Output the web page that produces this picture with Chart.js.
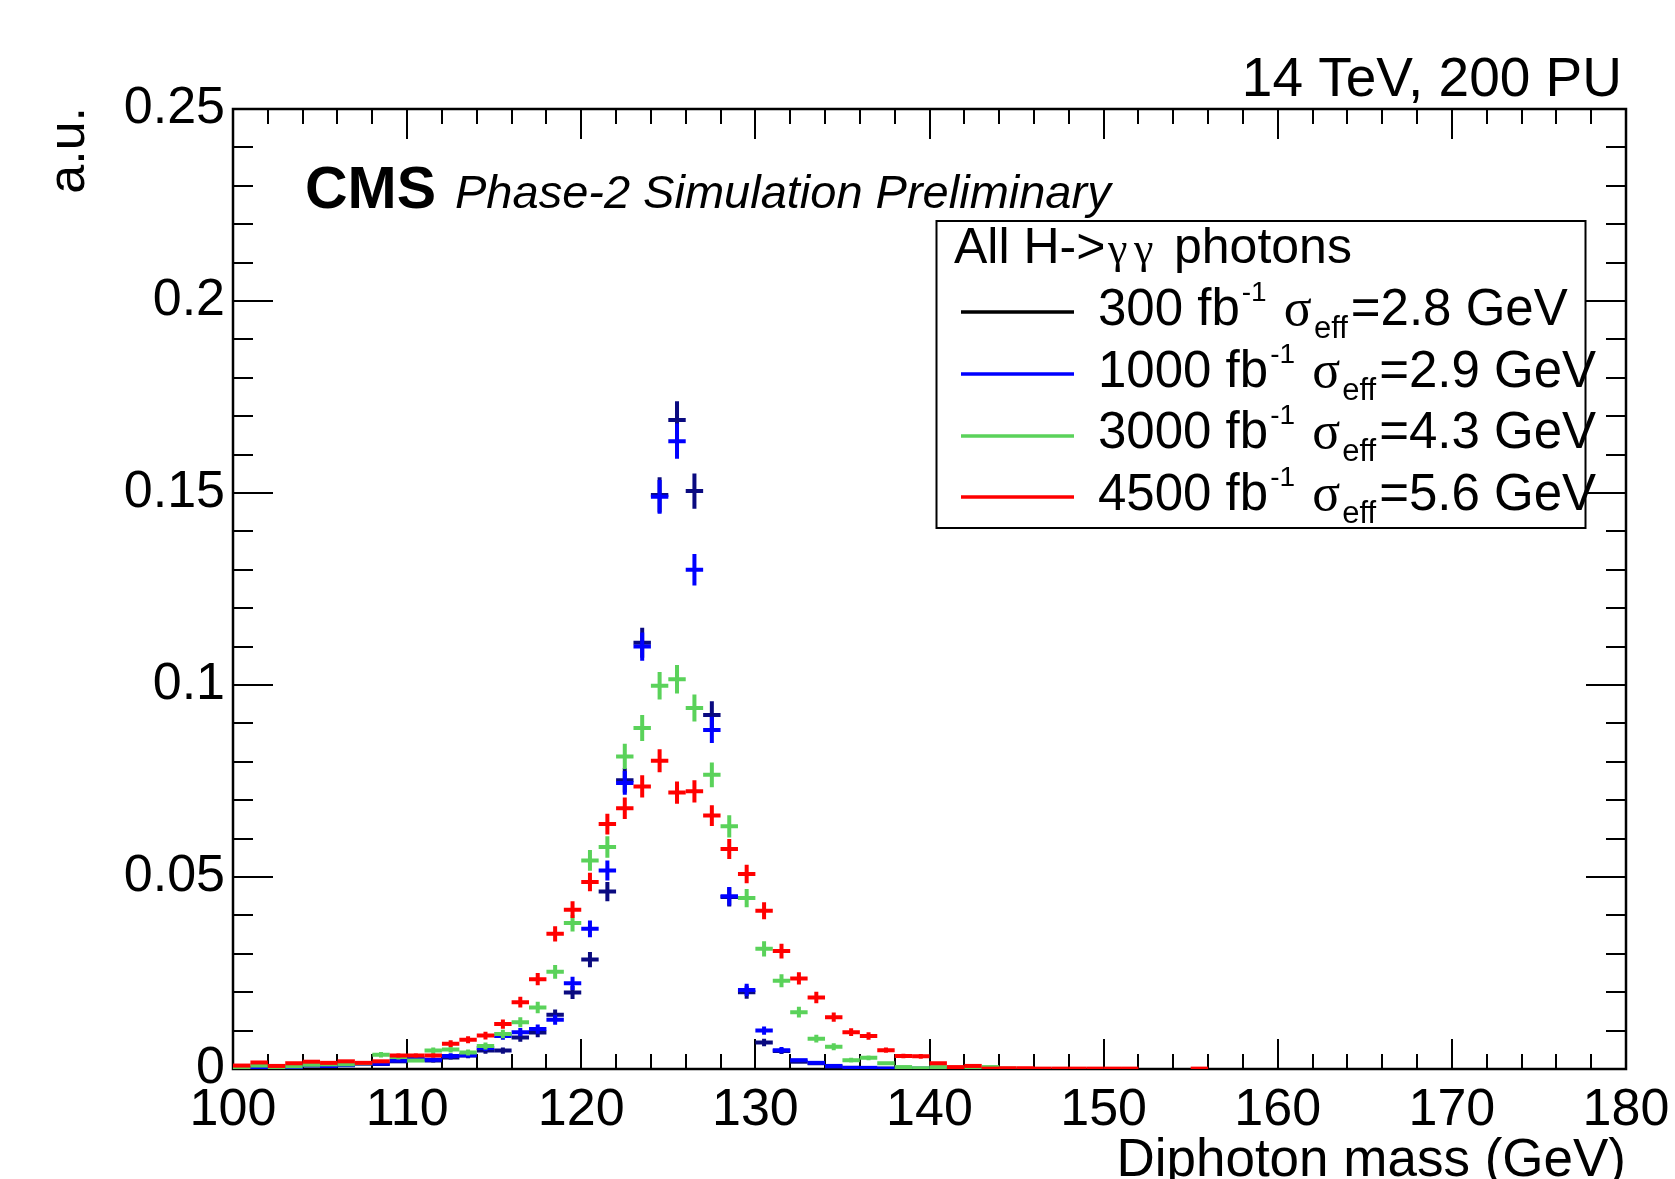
<!DOCTYPE html>
<html><head><meta charset="utf-8">
<script src="https://cdn.jsdelivr.net/npm/chart.js@4.4.1/dist/chart.umd.min.js"></script>
<style>html,body{margin:0;padding:0;background:#fff;}#wrap{width:1675px;height:1179px;position:relative;}canvas{display:block;}</style>
</head><body><div id="wrap"><canvas id="c" width="1675" height="1179"></canvas></div>
<script>
// ---------------- DATA ----------------
const binCenters = [100.5,101.5,102.5,103.5,104.5,105.5,106.5,107.5,108.5,109.5,
  110.5,111.5,112.5,113.5,114.5,115.5,116.5,117.5,118.5,119.5,
  120.5,121.5,122.5,123.5,124.5,125.5,126.5,127.5,128.5,129.5,
  130.5,131.5,132.5,133.5,134.5,135.5,136.5,137.5,138.5,139.5,
  140.5,141.5,142.5,143.5,144.5,145.5,146.5,147.5,148.5,149.5,
  150.5,151.5,152.5,153.5,154.5,155.5];
const binWidth = 1;

const vals300 = [0.0003,0.0002,0.0002,0.0004,0.0009,0.0008,0.0010,0.0014,0.0013,0.0020,
  0.0025,0.0022,0.0030,0.0035,0.0048,0.0048,0.0082,0.0095,0.0141,0.0199,
  0.0285,0.0462,0.0752,0.1110,0.1495,0.1690,0.1505,0.0922,0.0448,0.0200,
  0.0069,0.0047,0.0019,0.0015,0.0006,0.0003,0.0002,0.0001,null,null,
  null,null,null,null,null,null,null,null,null,null,null,null,null,null,null,null];
const err300 = [0.0002,0.0002,0.0002,0.0002,0.0004,0.0003,0.0004,0.0004,0.0004,0.0005,
  0.0006,0.0006,0.0006,0.0007,0.0008,0.0008,0.0011,0.0012,0.0014,0.0017,
  0.0020,0.0025,0.0032,0.0039,0.0046,0.0049,0.0046,0.0036,0.0025,0.0017,
  0.0010,0.0008,0.0005,0.0005,0.0003,0.0002,0.0002,0.0001,null,null,
  null,null,null,null,null,null,null,null,null,null,null,null,null,null,null,null];

const vals1000 = [0.0004,0.0003,0.0002,0.0005,0.0010,0.0008,0.0010,0.0015,0.0014,0.0022,
  0.0028,0.0024,0.0034,0.0036,0.0055,0.0086,0.0096,0.0104,0.0128,0.0223,
  0.0365,0.0517,0.0745,0.1100,0.1490,0.1635,0.1300,0.0883,0.0450,0.0206,
  0.0100,0.0049,0.0023,0.0016,0.0008,0.0003,0.0003,0.0001,0.0001,0.0001,
  0.0001,null,null,null,null,null,null,null,null,null,null,null,null,null,null,null];
const err1000 = [0.0002,0.0002,0.0002,0.0003,0.0004,0.0003,0.0004,0.0004,0.0004,0.0005,
  0.0006,0.0006,0.0007,0.0007,0.0008,0.0010,0.0011,0.0012,0.0013,0.0017,
  0.0022,0.0026,0.0031,0.0037,0.0044,0.0046,0.0041,0.0034,0.0024,0.0016,
  0.0011,0.0008,0.0005,0.0005,0.0003,0.0002,0.0002,0.0001,0.0001,0.0001,
  0.0001,null,null,null,null,null,null,null,null,null,null,null,null,null,null,null];

const vals3000 = [0.0005,0.0009,0.0004,0.0007,0.0011,0.0012,0.0012,0.0015,0.0037,0.0031,
  0.0022,0.0048,0.0051,0.0043,0.0060,0.0091,0.0122,0.0160,0.0253,0.0380,
  0.0543,0.0578,0.0814,0.0888,0.0998,0.1015,0.0940,0.0766,0.0632,0.0445,
  0.0313,0.0230,0.0148,0.0079,0.0058,0.0023,0.0029,0.0015,0.0005,0.0002,
  0.0005,0.0002,0.0001,0.0005,0.0001,null,null,null,null,null,null,null,null,null,null,null];
const err3000 = [0.0003,0.0003,0.0002,0.0003,0.0004,0.0004,0.0004,0.0004,0.0007,0.0006,
  0.0005,0.0008,0.0008,0.0008,0.0009,0.0011,0.0013,0.0015,0.0018,0.0022,
  0.0027,0.0028,0.0033,0.0034,0.0036,0.0037,0.0035,0.0032,0.0029,0.0024,
  0.0020,0.0017,0.0014,0.0010,0.0009,0.0006,0.0006,0.0004,0.0003,0.0002,
  0.0003,0.0002,0.0001,0.0003,0.0001,null,null,null,null,null,null,null,null,null,null,null];

const vals4500 = [0.0009,0.0017,0.0008,0.0015,0.0019,0.0016,0.0020,0.0016,0.0020,0.0035,
  0.0035,0.0035,0.0066,0.0076,0.0087,0.0117,0.0174,0.0234,0.0352,0.0415,
  0.0487,0.0638,0.0679,0.0736,0.0803,0.0720,0.0723,0.0660,0.0573,0.0508,
  0.0412,0.0307,0.0236,0.0186,0.0135,0.0096,0.0086,0.0049,0.0034,0.0033,
  0.0015,0.0005,0.0008,0.0001,0.0002,0.0002,0.0001,0.0001,0.0001,0.0001,
  0.0001,0.0001,null,null,null,0.0001];
const err4500 = [0.0003,0.0004,0.0003,0.0004,0.0005,0.0004,0.0005,0.0004,0.0005,0.0006,
  0.0006,0.0006,0.0009,0.0009,0.0010,0.0012,0.0014,0.0016,0.0020,0.0022,
  0.0024,0.0027,0.0028,0.0029,0.0030,0.0029,0.0029,0.0027,0.0026,0.0024,
  0.0022,0.0019,0.0016,0.0015,0.0012,0.0010,0.0010,0.0007,0.0006,0.0006,
  0.0004,0.0002,0.0003,0.0001,0.0001,0.0001,0.0001,0.0001,0.0001,0.0001,
  0.0001,0.0001,null,null,null,0.0001];

const lumiLabels = ['300','1000','3000','4500'];
const sigmaEffLabels = ['2.8','2.9','4.3','5.6'];
const xTickValues = [100,110,120,130,140,150,160,170,180];
const yTickValues = [0,0.05,0.1,0.15,0.2,0.25];

// ---------------- STYLE ----------------
const markerColors = ['#0a0a80','#0000ff','#5ad25a','#ff0000'];
const legendColors = ['#000000','#0000ff','#5ad25a','#ff0000'];
const SANS = '"Liberation Sans", Arial, Helvetica, sans-serif';
const SERIF = '"Liberation Serif", "DejaVu Serif", serif';

function makePoints(vals, errs){
  const pts = [];
  vals.forEach((v,i)=>{ if(v!==null) pts.push({x:binCenters[i], y:v, err:errs[i]}); });
  return pts;
}
const seriesVals = [vals300, vals1000, vals3000, vals4500];
const seriesErrs = [err300, err1000, err3000, err4500];

const datasets = seriesVals.map((v,k)=>({
  label: lumiLabels[k]+' fb-1',
  data: makePoints(v, seriesErrs[k]),
  pointRadius: 0, pointHoverRadius: 0, showLine: false,
  borderColor: markerColors[k], backgroundColor: markerColors[k]
}));

// error-cross plugin (uses chart scales)
const crossPlugin = {
  id: 'crosses',
  afterDatasetsDraw(chart){
    const ctx = chart.ctx, xs = chart.scales.x, ys = chart.scales.y, a = chart.chartArea;
    ctx.save();
    ctx.beginPath(); ctx.rect(a.left, a.top-2, a.right-a.left, a.bottom-a.top+2); ctx.clip();
    chart.data.datasets.forEach((ds, k)=>{
      const meta = chart.getDatasetMeta(k);
      ctx.strokeStyle = markerColors[k];
      ctx.lineWidth = 4;
      ctx.lineCap = 'butt';
      ds.data.forEach((p, j)=>{
        const el = meta.data[j];
        const xc = el.x, yc = el.y;
        const xl = xs.getPixelForValue(p.x - binWidth/2);
        const xr = xs.getPixelForValue(p.x + binWidth/2);
        const yt = ys.getPixelForValue(p.y + p.err);
        const yb = ys.getPixelForValue(Math.max(0, p.y - p.err));
        ctx.beginPath();
        ctx.moveTo(xl, yc); ctx.lineTo(xr, yc);
        if (yb - yt > 4) { ctx.moveTo(xc, yt); ctx.lineTo(xc, yb); }
        ctx.stroke();
      });
    });
    ctx.restore();
  }
};

// frame + ROOT-style inner ticks
const framePlugin = {
  id: 'frame',
  beforeDatasetsDraw(chart){
    const ctx = chart.ctx, xs = chart.scales.x, ys = chart.scales.y, a = chart.chartArea;
    ctx.save();
    ctx.strokeStyle = '#000';
    ctx.lineWidth = 2;
    ctx.beginPath();
    for (let v = xs.min; v <= xs.max + 1e-9; v += 2) {
      const px = Math.round(xs.getPixelForValue(v));
      const major = Math.abs(v % 10) < 1e-9;
      const L = major ? 30 : 15;
      ctx.moveTo(px, a.bottom); ctx.lineTo(px, a.bottom - L);
      ctx.moveTo(px, a.top); ctx.lineTo(px, a.top + L);
    }
    for (let i = 0; i <= 25; i++) {
      const v = i * 0.01;
      const py = Math.round(ys.getPixelForValue(v));
      const major = (i % 5) === 0;
      const L = major ? 40 : 20;
      ctx.moveTo(a.left, py); ctx.lineTo(a.left + L, py);
      ctx.moveTo(a.right, py); ctx.lineTo(a.right - L, py);
    }
    ctx.stroke();
    ctx.lineWidth = 2.5;
    ctx.strokeRect(a.left, a.top, a.right - a.left, a.bottom - a.top);
    ctx.restore();
  }
};

// texts and legend
const textPlugin = {
  id: 'texts',
  afterDraw(chart){
    const ctx = chart.ctx, a = chart.chartArea;
    ctx.save();
    ctx.fillStyle = '#000';
    ctx.textBaseline = 'alphabetic';
    ctx.font = '55px ' + SANS; ctx.textAlign = 'right';
    ctx.fillText('14 TeV, 200 PU', a.right - 4, 96);
    ctx.textAlign = 'left';
    ctx.font = 'bold 59px ' + SANS;
    ctx.fillText('CMS', 305, 208);
    ctx.font = 'italic 47px ' + SANS;
    ctx.fillText('Phase-2 Simulation Preliminary', 455, 208);
    ctx.font = '53px ' + SANS; ctx.textAlign = 'right';
    ctx.fillText('Diphoton mass (GeV)', a.right, 1176);
    ctx.save();
    ctx.translate(84, a.top - 2); ctx.rotate(-Math.PI/2);
    ctx.textAlign = 'right'; ctx.font = '52px ' + SANS;
    ctx.fillText('a.u.', 0, 0);
    ctx.restore();

    // legend box
    const bx = 936.5, by = 221, bw = 649, bh = 307;
    ctx.fillStyle = '#fff'; ctx.fillRect(bx, by, bw, bh);
    ctx.strokeStyle = '#000'; ctx.lineWidth = 2; ctx.strokeRect(bx, by, bw, bh);
    ctx.fillStyle = '#000'; ctx.textAlign = 'left';
    ctx.font = '50px ' + SANS;
    ctx.fillText('All H->', 954, 263);
    ctx.font = '44px ' + SERIF;
    ctx.fillText('\u03b3', 1108, 263);
    ctx.fillText('\u03b3', 1134, 263);
    ctx.font = '50px ' + SANS;
    ctx.fillText('photons', 1174, 263);

    const lineY = [312, 374, 436, 497];
    const baseY = [325, 387, 448, 510];
    for (let k = 0; k < 4; k++) {
      ctx.strokeStyle = legendColors[k]; ctx.lineWidth = 3.5;
      ctx.beginPath(); ctx.moveTo(961, lineY[k]); ctx.lineTo(1074, lineY[k]); ctx.stroke();
      let x = 1098;
      const b = baseY[k];
      ctx.fillStyle = '#000';
      ctx.font = '51px ' + SANS;
      const t1 = lumiLabels[k] + ' fb';
      ctx.fillText(t1, x, b); x += ctx.measureText(t1).width + 2;
      ctx.font = '28px ' + SANS;
      ctx.fillText('-1', x, b - 24); x += ctx.measureText('-1').width;
      ctx.font = '51px ' + SANS;
      x += ctx.measureText(' ').width + 3;
      ctx.font = '52px ' + SERIF;
      ctx.fillText('\u03c3', x, b); x += ctx.measureText('\u03c3').width + 2;
      ctx.font = '31px ' + SANS;
      ctx.fillText('eff', x, b + 13); x += ctx.measureText('eff').width + 3;
      ctx.font = '51px ' + SANS;
      ctx.fillText('=' + sigmaEffLabels[k] + ' GeV', x, b);
    }
    ctx.restore();
  }
};

Chart.defaults.font.family = SANS;
new Chart(document.getElementById('c'), {
  type: 'scatter',
  data: { datasets },
  options: {
    responsive: false, devicePixelRatio: 1, animation: false,
    layout: { padding: { left: 0, right: 49, top: 109, bottom: 0 } },
    plugins: { legend: { display: false }, tooltip: { enabled: false } },
    scales: {
      x: {
        type: 'linear', min: 100, max: 180,
        grid: { display: false, drawTicks: false }, border: { display: false },
        afterBuildTicks: s => { s.ticks = xTickValues.map(v => ({ value: v })); },
        ticks: { color: '#000', font: { size: 52, family: SANS, lineHeight: 1.46 }, padding: 4, maxRotation: 0,
                 callback: v => String(v) },
        afterFit: s => { s.height = 110; }
      },
      y: {
        type: 'linear', min: 0, max: 0.25,
        grid: { display: false, drawTicks: false }, border: { display: false },
        afterBuildTicks: s => { s.ticks = yTickValues.map(v => ({ value: v })); },
        ticks: { color: '#000', font: { size: 52, family: SANS }, padding: 8,
                 callback: v => String(Number(v.toFixed(2))) },
        afterFit: s => { s.width = 233; }
      }
    }
  },
  plugins: [framePlugin, crossPlugin, textPlugin]
});
</script></body></html>
